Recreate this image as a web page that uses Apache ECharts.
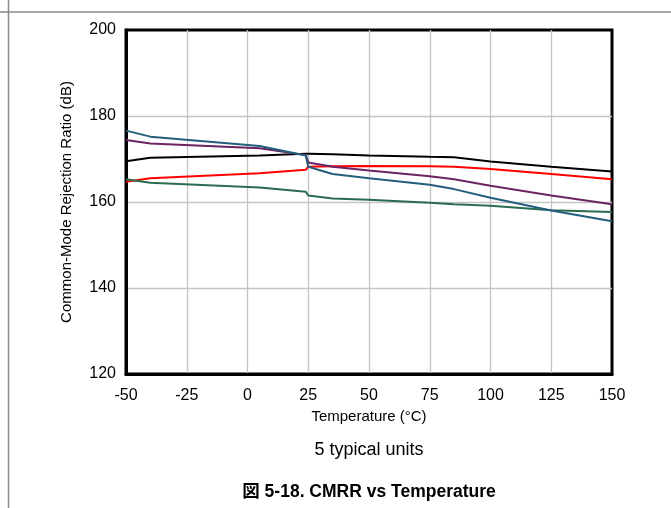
<!DOCTYPE html>
<html>
<head>
<meta charset="utf-8">
<script src="https://cdn.jsdelivr.net/npm/echarts@6/dist/echarts.min.js"></script>
<style>
html,body{margin:0;padding:0;background:#fff;}
#chart{width:671px;height:508px;}
</style>
</head>
<body>
<div id="chart"></div>
<script>
var temps = [-50, -40, 5, 24, 25, 35, 50, 75, 85, 100, 125, 150];
var unitBlack  = [169.5, 170.3, 170.8, 171.2, 171.2, 171.1, 170.8, 170.5, 170.4, 169.4, 168.2, 167.1];
var unitRed    = [164.7, 165.5, 166.7, 167.5, 168.2, 168.3, 168.4, 168.3, 168.2, 167.7, 166.5, 165.3];
var unitPurple = [174.4, 173.6, 172.5, 170.9, 169.2, 168.2, 167.3, 166.0, 165.3, 163.8, 161.5, 159.5];
var unitBlue   = [176.6, 175.2, 173.0, 170.8, 168.2, 166.5, 165.5, 164.0, 163.0, 161.0, 158.0, 155.5];
var unitGreen  = [165.3, 164.5, 163.4, 162.4, 161.5, 160.8, 160.5, 159.8, 159.5, 159.1, 158.1, 157.7];
var xTicks = [-50, -25, 0, 25, 50, 75, 100, 125, 150];
var yTicks = [120, 140, 160, 180, 200];

var FONT = "'Liberation Sans', Arial, 'Noto Sans CJK JP', sans-serif";
function pairs(vals){ return temps.map(function(t,i){ return [t, vals[i]]; }); }
function mk(name, vals, color){
  return { name: name, type: 'line', data: pairs(vals), showSymbol: false, symbol: 'none',
    lineStyle: { color: color, width: 2 }, itemStyle: { color: color }, z: 3, animation: false };
}

var chart = echarts.init(document.getElementById('chart'), null, { renderer: 'canvas' });
chart.setOption({
  animation: false,
  grid: { left: 126, top: 30, right: 59, bottom: 134, show: true, borderColor: '#000', borderWidth: 3, backgroundColor: 'transparent' },
  xAxis: {
    type: 'value', min: -50, max: 150, interval: 25,
    name: 'Temperature (°C)', nameLocation: 'middle', nameGap: 33,
    nameTextStyle: { fontFamily: FONT, fontSize: 15, color: '#000' },
    axisLine: { show: true, onZero: false, lineStyle: { color: '#000', width: 3 } },
    axisTick: { show: false },
    axisLabel: { fontFamily: FONT, fontSize: 16, color: '#000', margin: 14,
      formatter: function(v){ return xTicks.indexOf(v) >= 0 ? String(v) : ''; } },
    splitLine: { show: true, showMinLine: false, showMaxLine: false, lineStyle: { color: '#c4c4c4', width: 1.3 } }
  },
  yAxis: {
    type: 'value', min: 120, max: 200, interval: 20,
    name: 'Common-Mode Rejection Ratio (dB)', nameLocation: 'middle', nameGap: 52,
    nameTextStyle: { fontFamily: FONT, fontSize: 15, color: '#000' },
    axisLine: { show: true, onZero: false, lineStyle: { color: '#000', width: 3 } },
    axisTick: { show: false },
    axisLabel: { fontFamily: FONT, fontSize: 16, color: '#000', margin: 10,
      formatter: function(v){ return yTicks.indexOf(v) >= 0 ? String(v) : ''; } },
    splitLine: { show: true, showMinLine: false, showMaxLine: false, lineStyle: { color: '#c4c4c4', width: 1.3 } }
  },
  series: [
    mk('Unit 1', unitBlack, '#000000'),
    mk('Unit 2', unitRed, '#ff0000'),
    mk('Unit 3', unitGreen, '#2b6b4e'),
    mk('Unit 4', unitPurple, '#6b2362'),
    mk('Unit 5', unitBlue, '#235e7c')
  ],
  graphic: [
    { type: 'line', shape: { x1: 0, y1: 12, x2: 671, y2: 12 }, style: { stroke: '#8a8a8a', lineWidth: 1.5 }, silent: true },
    { type: 'line', shape: { x1: 8.5, y1: 0, x2: 8.5, y2: 508 }, style: { stroke: '#8a8a8a', lineWidth: 1.5 }, silent: true },
    { type: 'text', x: 369, y: 450, style: { text: '5 typical units', fontFamily: FONT, fontSize: 18, fill: '#000', textAlign: 'center', textVerticalAlign: 'middle' } },
    { type: 'text', x: 369, y: 492, style: { text: '図 5-18. CMRR vs Temperature', fontFamily: FONT, fontSize: 17.5, fontWeight: 'bold', fill: '#000', textAlign: 'center', textVerticalAlign: 'middle' } }
  ]
});
</script>
</body>
</html>
